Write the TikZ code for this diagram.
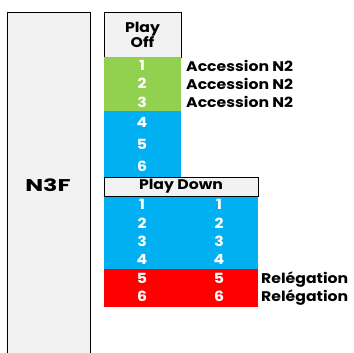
\documentclass[tikz,border=0pt]{standalone}
\usepackage{fontspec}
\setmainfont[FakeStretch=1.12]{Poppins}
\newfontfamily\widefont[FakeStretch=1.4]{Poppins}
\usepackage{tikz}
\usetikzlibrary{positioning}

\definecolor{headgray}{HTML}{F2F2F2}
\definecolor{upgreen}{HTML}{92D050}
\definecolor{midblue}{HTML}{00B0F0}
\definecolor{downred}{HTML}{FF0000}

\tikzset{
  cell/.style={anchor=north west, inner sep=0pt, outer sep=0pt},
  headbox/.style={cell, draw=black, line width=0.9pt, fill=headgray,
    font=\fontsize{14}{16}\selectfont\bfseries, align=center},
  band/.style={cell, draw=none},
  num/.style={text=white, inner sep=0pt, text height=9.8pt, text depth=0pt,
    font=\fontsize{14}{16}\selectfont\bfseries},
  tag/.style={anchor=west, inner sep=0pt, text height=9.8pt, text depth=0pt,
    font=\fontsize{14}{16}\selectfont\bfseries}
}

\begin{document}
\begin{tikzpicture}[x=1pt,y=-1pt]
  \useasboundingbox (0,0) rectangle (354,353);
  \begin{scope}
  \clip (0,0) rectangle (354,353);
  % Division column
  \node[headbox, minimum width=83, minimum height=360] (division) at (7,12) {};
  \end{scope}
  \node[inner sep=0pt, text height=12pt, text depth=0pt,
    font=\widefont\fontsize{17}{19}\selectfont\bfseries] (n3f) at (48,185) {N3F};

  % Play Off
  \node[headbox, minimum width=77, minimum height=45] (playoff) at (104,12) {Play\\[-1pt]Off};
  \node[band, fill=upgreen, minimum width=77, minimum height=54] (upband) at (104,57) {};
  \node[band, fill=midblue, minimum width=77, minimum height=66] (offband) at (104,111) {};
  \node[num] (po1) at (142,66) {1};
  \node[num] (po2) at (142,84) {2};
  \node[num] (po3) at (142,103) {3};
  \node[num] (po4) at (142,123) {4};
  \node[num] (po5) at (142,145) {5};
  \node[num] (po6) at (142,167) {6};
  \node[tag] (acc1) at (186,66.5) {Accession N2};
  \node[tag] (acc2) at (186,84.5) {Accession N2};
  \node[tag] (acc3) at (186,102.5) {Accession N2};

  % Play Down
  \node[band, fill=midblue, minimum width=154, minimum height=73] (safeband) at (104,196) {};
  \node[band, fill=downred, minimum width=154, minimum height=38] (relband) at (104,269) {};
  \node[headbox, minimum width=154, minimum height=19] (playdown) at (104,177) {Play Down};
  \foreach \r/\y in {1/205,2/224,3/242,4/260,5/279,6/297} {
    \node[num] (pda\r) at (142,\y) {\r};
    \node[num] (pdb\r) at (219,\y) {\r};
  }
  \node[tag] (rel5) at (261,279) {Relégation};
  \node[tag] (rel6) at (261,297) {Relégation};
\end{tikzpicture}
\end{document}
